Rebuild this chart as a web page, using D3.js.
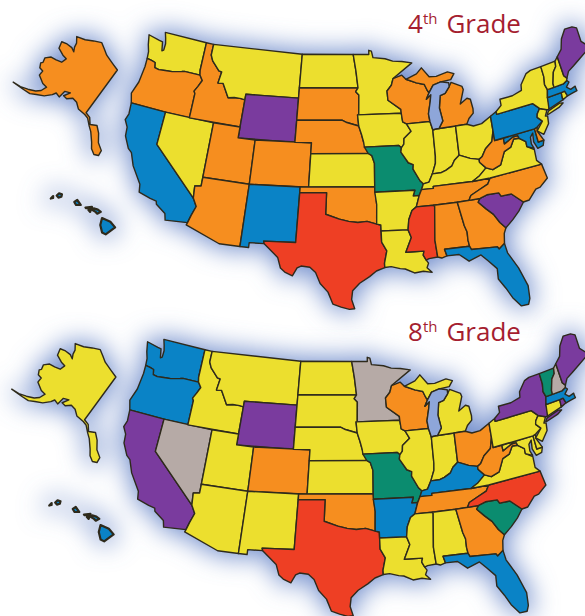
<!DOCTYPE html>
<html lang="en">
<head>
<meta charset="UTF-8">
<title>4th and 8th Grade</title>
<script src="https://d3js.org/d3.v7.min.js"></script>
<style>
  html, body { margin: 0; padding: 0; background: #fff; }
  svg { display: block; }
  .state { stroke: #2e2a1c; stroke-width: 1.4; stroke-linejoin: round; }
  .title { font-family: "Open Sans", sans-serif; font-size: 26px; fill: #a51e30; }
</style>
</head>
<body>
<svg id="chart" width="585" height="616"></svg>
<script>
// Colour bands, and the band of each state in the two grades
const bands = ["yellow", "orange", "blue", "purple", "red", "green", "gray"];
const bandColors = ["#ecdf2e", "#f68e1f", "#0a83c6", "#7a3b9e", "#ee3f24", "#0b8c6f", "#b6aaa6"];

const grades = ["4", "8"];

const stateNames = ["AK","HI","WA","OR","CA","NV","ID","MT","WY","UT","AZ","CO","NM","ND","SD","NE","KS","OK","TX",
  "MN","IA","MO","AR","LA","WI","IL","IN","MI","MIU","OH","KY","TN","MS","AL","GA","FL","SC","NC","VA","WV","MD","DE",
  "PA","NJ","NY","LI","CT","RI","MA","VT","NH","ME"];

const grade4 = ["orange","blue","yellow","orange","blue","yellow","orange","yellow","purple","orange","orange","orange","blue","yellow","orange","orange","yellow","orange","red",
  "yellow","yellow","green","yellow","yellow","orange","yellow","yellow","orange","orange","yellow","yellow","orange","red","orange","orange","blue","purple","orange","yellow","orange","blue","orange",
  "blue","yellow","yellow","yellow","blue","yellow","blue","yellow","yellow","purple"];

const grade8 = ["yellow","blue","blue","blue","purple","gray","yellow","yellow","purple","yellow","yellow","orange","yellow","yellow","yellow","yellow","yellow","orange","red",
  "gray","yellow","green","blue","yellow","orange","yellow","yellow","yellow","yellow","orange","blue","orange","yellow","yellow","orange","blue","green","red","yellow","orange","yellow","yellow",
  "yellow","yellow","purple","purple","yellow","purple","blue","green","gray","purple"];

// State outlines, lon/lat
const AK = [[-141,69.65],[-145,70.05],[-150,70.45],[-153,70.9],[-156.6,71.35],[-160,70.4],[-163,69.3],[-166.5,68.35],[-164,67.7],[-163,67],[-161.5,66.4],[-163.5,66.55],[-166,66.2],[-168,65.6],[-166.3,64.6],[-163,64.5],[-161,64.6],[-161,63.6],[-163,63.05],[-165,62.6],[-166,61.6],[-165,60.9],[-165.3,60.5],[-164,59.9],[-162.5,60],[-162,59.1],[-159,58.7],[-157.2,58.8],[-157.5,57.7],[-158.5,56.9],[-160.5,56],[-162.5,55.2],[-164.9,54.6],[-161.5,55.3],[-159,55.8],[-157.5,56.6],[-155.5,57.5],[-154,58.7],[-153.5,59.4],[-151.8,59.3],[-151.8,60.7],[-150,61.2],[-151,60],[-149.5,60],[-148,60.8],[-146,60.7],[-144,60],[-141,59.9],[-139.5,59.7],[-137.5,58.7],[-136,58],[-134,56.5],[-133,55.5],[-131.5,54.8],[-130.1,55],[-130,56],[-132,57],[-133.5,58.5],[-135.3,59.5],[-137.5,59],[-139,60],[-141,60.3]];
const HI = [
  [[-155.9,20.25],[-155.2,19.95],[-154.8,19.5],[-155.6,18.95],[-155.9,19.1],[-156.05,19.7]],
  [[-156.7,20.9],[-156.6,21.03],[-156.25,20.93],[-156,20.75],[-156.3,20.6],[-156.45,20.75]],
  [[-157.3,21.1],[-156.75,21.15],[-156.75,21.05],[-157.25,21.05]],
  [[-157.05,20.9],[-156.85,20.9],[-156.9,20.75]],
  [[-158.25,21.55],[-158,21.7],[-157.7,21.3],[-158.1,21.3]],
  [[-159.75,22.05],[-159.55,22.22],[-159.3,22.15],[-159.35,21.95],[-159.6,21.88]],
  [[-160.25,21.8],[-160.05,22],[-160.05,21.85]]
];
const WA = [[-124.7,48.38],[-123.2,48.15],[-122.75,48.1],[-122.5,47.3],[-122.3,47.4],[-122.3,48],[-122.5,48.5],[-122.75,49],[-117.03,49],[-117.04,46.42],[-116.92,45.99],[-118.98,46],[-119.3,45.93],[-120.5,45.7],[-121.2,45.65],[-122.2,45.57],[-122.75,45.65],[-122.9,46.1],[-123.4,46.2],[-124,46.27],[-124.1,46.9],[-124.4,47.5]];
const OR = [[-124,46.27],[-123.4,46.2],[-122.9,46.1],[-122.75,45.65],[-122.2,45.57],[-121.2,45.65],[-120.5,45.7],[-119.3,45.93],[-118.98,46],[-116.92,45.99],[-116.48,45.55],[-116.85,44.95],[-117.2,44.45],[-117.03,44.25],[-117.03,42],[-120,42],[-124.2,42],[-124.55,42.84],[-124.1,44],[-123.95,45.5]];
const CA = [[-124.2,42],[-120,42],[-120,39],[-114.63,35],[-114.14,34.3],[-114.5,33.4],[-114.72,32.72],[-117.12,32.53],[-117.3,33.1],[-118.4,33.75],[-118.5,34.03],[-119.2,34.15],[-120.5,34.45],[-120.65,35.15],[-121.9,36.6],[-122.5,37.7],[-123,38],[-123.75,39],[-123.85,39.8],[-124.35,40.4],[-124.1,41]];
const NV = [[-120,42],[-114.04,42],[-114.04,36.2],[-114.74,36.1],[-114.63,35],[-120,39]];
const ID = [[-117.04,49],[-116.05,49],[-116.05,48],[-115.7,47.5],[-114.7,46.7],[-114.35,46.65],[-114.5,45.6],[-113.9,45.65],[-113.45,45.05],[-113,44.45],[-112.3,44.55],[-111.5,44.55],[-111.05,44.48],[-111.05,42],[-117.03,42],[-117.03,44.25],[-117.2,44.45],[-116.85,44.95],[-116.48,45.55],[-116.92,45.99],[-117.04,46.42]];
const MT = [[-116.05,49],[-104.05,49],[-104.05,45],[-111.05,45],[-111.05,44.48],[-111.5,44.55],[-112.3,44.55],[-113,44.45],[-113.45,45.05],[-113.9,45.65],[-114.5,45.6],[-114.35,46.65],[-114.7,46.7],[-115.7,47.5],[-116.05,48]];
const WY = [[-111.05,45],[-104.05,45],[-104.05,41],[-111.05,41]];
const UT = [[-114.04,42],[-111.05,42],[-111.05,41],[-109.05,41],[-109.05,37],[-114.04,37]];
const AZ = [[-114.04,37],[-109.05,37],[-109.05,31.33],[-111.07,31.33],[-114.81,32.5],[-114.72,32.72],[-114.5,33.4],[-114.14,34.3],[-114.63,35],[-114.74,36.1],[-114.04,36.2]];
const CO = [[-109.05,41],[-102.05,41],[-102.05,37],[-109.05,37]];
const NM = [[-109.05,37],[-103,37],[-103.05,32],[-106.62,32],[-106.53,31.78],[-108.2,31.78],[-108.2,31.33],[-109.05,31.33]];
const ND = [[-104.05,49],[-97.23,49],[-96.85,47.5],[-96.56,45.94],[-104.05,45.94]];
const SD = [[-104.05,45.94],[-96.56,45.94],[-96.85,45.6],[-96.45,45.3],[-96.45,43.5],[-96.6,43.5],[-96.45,42.49],[-97.9,42.8],[-98.5,43],[-104.05,43]];
const NE = [[-104.05,43],[-98.5,43],[-97.9,42.8],[-96.45,42.49],[-96.1,41.7],[-95.85,41],[-95.31,40],[-102.05,40],[-102.05,41],[-104.05,41]];
const KS = [[-102.05,40],[-95.31,40],[-94.9,39.8],[-94.61,39.1],[-94.62,37],[-102.05,37]];
const OK = [[-103,37],[-94.62,37],[-94.43,35.4],[-94.48,33.64],[-95.5,33.9],[-96.5,33.8],[-97.5,33.9],[-98.5,34.1],[-100,34.56],[-100,36.5],[-103,36.5]];
const TX = [[-106.62,32],[-103.05,32],[-103,36.5],[-100,36.5],[-100,34.56],[-98.5,34.1],[-97.5,33.9],[-96.5,33.8],[-95.5,33.9],[-94.48,33.64],[-94.04,33.55],[-94.04,33],[-94.04,32],[-93.55,31.2],[-93.85,30.1],[-93.85,29.7],[-94.7,29.4],[-95.4,28.9],[-96.4,28.3],[-97.1,27.6],[-97.2,26.8],[-96.9,25.96],[-97.4,25.9],[-98.2,26.1],[-99,26.4],[-99.5,27.5],[-100.3,28.3],[-100.8,29.3],[-101.4,29.77],[-102.3,29.88],[-102.7,29.7],[-103.15,28.98],[-104,29.3],[-104.5,29.65],[-104.9,30.6],[-106.53,31.78]];
const MN = [[-97.23,49],[-95.15,49],[-95.15,49.38],[-94.8,49.3],[-94.6,48.7],[-93,48.55],[-92,48.3],[-90.8,48.2],[-89.5,48],[-92.05,46.7],[-92.3,46.1],[-92.88,45.6],[-92.8,44.75],[-91.25,43.85],[-91.22,43.5],[-96.45,43.5],[-96.45,45.3],[-96.85,45.6],[-96.56,45.94],[-96.85,47.5]];
const IA = [[-96.6,43.5],[-91.22,43.5],[-91.1,42.7],[-90.65,42.5],[-90.15,41.8],[-91.05,41.2],[-91.1,40.7],[-91.42,40.38],[-91.7,40.6],[-95.77,40.58],[-95.85,41],[-96.1,41.7],[-96.45,42.49]];
const MO = [[-95.77,40.58],[-91.7,40.6],[-91.42,40.38],[-91.5,40],[-90.7,39],[-90.15,38.8],[-90.2,38.4],[-89.5,37.3],[-89.15,37],[-89.4,36.5],[-89.7,36],[-90.37,36],[-90.15,36.5],[-94.62,36.5],[-94.62,37],[-94.61,39.1],[-94.9,39.8],[-95.31,40]];
const AR = [[-94.62,36.5],[-90.15,36.5],[-90.37,36],[-89.7,36],[-90.1,35],[-90.6,34.7],[-91,33.9],[-91.17,33],[-94.04,33],[-94.04,33.55],[-94.48,33.64],[-94.43,35.4]];
const LA = [[-94.04,33],[-91.17,33],[-90.9,32.3],[-91.6,31],[-89.73,31],[-89.85,30.65],[-89.6,30.18],[-89.4,29.9],[-89.6,29.5],[-89.15,29.05],[-90,29.2],[-90.9,29.1],[-91.8,29.5],[-92.3,29.55],[-93.2,29.77],[-93.85,29.7],[-93.85,30.1],[-93.55,31.2],[-94.04,32]];
const MS = [[-90.1,35],[-88.2,35],[-88.1,34.9],[-88.47,31.9],[-88.4,30.37],[-89.3,30.3],[-89.6,30.18],[-89.85,30.65],[-89.73,31],[-91.6,31],[-90.9,32.3],[-91.17,33],[-91,33.9],[-90.6,34.7]];
const AL = [[-88.2,35],[-85.6,35],[-85.18,32.85],[-85,32.3],[-85.05,31.55],[-85,31],[-87.6,31],[-87.45,30.4],[-88,30.25],[-88.4,30.37],[-88.47,31.9],[-88.1,34.9]];
const GA = [[-85.6,35],[-83.1,35],[-83.35,34.7],[-82.6,34],[-81.9,33.4],[-81.4,32.6],[-80.9,32.05],[-81.2,31.6],[-81.4,30.75],[-82.05,30.36],[-82.2,30.57],[-84.87,30.7],[-85,31],[-85.05,31.55],[-85,32.3],[-85.18,32.85]];
const FL = [[-87.6,31],[-85,31],[-84.87,30.7],[-82.2,30.57],[-82.05,30.36],[-81.4,30.75],[-81.3,29.9],[-80.55,28.45],[-80.03,26.8],[-80.15,25.7],[-80.4,25.2],[-81.1,25.15],[-81.75,26],[-82.2,26.9],[-82.75,27.8],[-82.65,28.7],[-83.4,29.5],[-84,30.1],[-85.3,29.7],[-86.2,30.4],[-87.45,30.4]];
const SC = [[-83.1,35],[-82.3,35.2],[-81,35.15],[-80.8,34.82],[-79.67,34.8],[-78.55,33.86],[-79.2,33.2],[-80,32.6],[-80.9,32.05],[-81.4,32.6],[-81.9,33.4],[-82.6,34],[-83.35,34.7]];
const NC = [[-84.32,35],[-83.1,35],[-82.3,35.2],[-81,35.15],[-80.8,34.82],[-79.67,34.8],[-78.55,33.86],[-77.9,33.9],[-77,34.65],[-76.5,34.7],[-75.55,35.25],[-75.85,36.55],[-81.68,36.59],[-82.05,36.1],[-83.1,35.75],[-84.05,35.4]];
const TN = [[-90.1,35],[-88.2,35],[-85.6,35],[-84.32,35],[-84.05,35.4],[-83.1,35.75],[-82.05,36.1],[-81.68,36.59],[-83.68,36.6],[-88.07,36.68],[-88.07,36.5],[-89.4,36.5],[-89.7,36]];
const KY = [[-89.4,36.5],[-88.07,36.5],[-88.07,36.68],[-83.68,36.6],[-82.8,36.98],[-81.97,37.54],[-82.6,38.15],[-82.6,38.4],[-83.6,38.65],[-84.8,39.1],[-85.4,38.73],[-85.75,38.27],[-86.5,37.95],[-87.1,37.8],[-88.05,37.8],[-88.5,37.1],[-89.15,37]];
const IL = [[-91.42,40.38],[-91.1,40.7],[-91.05,41.2],[-90.15,41.8],[-90.65,42.5],[-87.8,42.5],[-87.55,41.7],[-87.53,39.35],[-87.6,38.7],[-88.05,37.8],[-88.5,37.1],[-89.15,37],[-89.5,37.3],[-90.2,38.4],[-90.15,38.8],[-90.7,39],[-91.5,40]];
const IN = [[-87.55,41.7],[-87.2,41.76],[-84.8,41.76],[-84.8,39.1],[-85.4,38.73],[-85.75,38.27],[-86.5,37.95],[-87.1,37.8],[-88.05,37.8],[-87.6,38.7],[-87.53,39.35]];
const OH = [[-84.8,41.76],[-83.45,41.73],[-82.7,41.45],[-81.7,41.5],[-80.52,41.98],[-80.52,40.64],[-80.85,39.7],[-81.7,39.2],[-82.2,38.6],[-82.6,38.4],[-83.6,38.65],[-84.8,39.1]];
const WV = [[-82.6,38.15],[-82.6,38.4],[-82.2,38.6],[-81.7,39.2],[-80.85,39.7],[-80.52,40.64],[-80.52,39.72],[-79.48,39.72],[-79.48,39.2],[-78.4,39.6],[-77.83,39.6],[-77.72,39.32],[-78.35,39.4],[-78.85,38.77],[-79.65,38.55],[-80.3,37.5],[-81.25,37.25],[-81.97,37.54]];
const VA = [[-83.68,36.6],[-81.68,36.59],[-75.85,36.55],[-76.3,37],[-76.3,37.95],[-77.05,38.4],[-77.05,38.85],[-77.72,39.32],[-78.35,39.4],[-78.85,38.77],[-79.65,38.55],[-80.3,37.5],[-81.25,37.25],[-81.97,37.54],[-82.8,36.98]];
const MD = [[-79.48,39.72],[-75.79,39.72],[-75.7,38.46],[-75.05,38.45],[-75.25,38.03],[-75.9,37.95],[-76.2,38.6],[-76.1,39.4],[-76.45,39.1],[-76.5,38.5],[-76.3,38.05],[-77.05,38.4],[-77.05,38.85],[-77.72,39.32],[-77.83,39.6],[-78.4,39.6],[-79.48,39.2]];
const DE = [[-75.79,39.72],[-75.45,39.8],[-75.55,39.45],[-75.05,38.45],[-75.7,38.46]];
const PA = [[-80.52,41.98],[-79.76,42.27],[-79.76,42],[-75.35,42],[-74.7,41.36],[-75.1,40.95],[-75.2,40.65],[-74.72,40.15],[-75.45,39.8],[-75.79,39.72],[-80.52,39.72]];
const NJ = [[-74.7,41.36],[-73.9,41],[-74.25,40.5],[-74,40.45],[-74.1,39.75],[-74.9,38.95],[-75.55,39.45],[-74.72,40.15],[-75.2,40.65],[-75.1,40.95]];
const NY = [[-79.76,42.27],[-79.05,42.7],[-79.05,43.27],[-77.5,43.27],[-76.3,43.5],[-76.2,44],[-75.3,44.85],[-74.7,45],[-73.35,45],[-73.3,44],[-73.45,43.3],[-73.27,42.75],[-73.5,42.05],[-73.5,41.3],[-73.65,41],[-73.9,41],[-74.7,41.36],[-75.35,42],[-79.76,42]];
const LI = [[-74,40.6],[-73.75,40.85],[-72.3,41.15],[-71.9,41.05],[-72.5,40.8],[-73.9,40.55]];
const CT = [[-73.5,42.05],[-71.8,42.02],[-71.85,41.32],[-73.65,41]];
const RI = [[-71.8,42.02],[-71.38,42.02],[-71.2,41.5],[-71.85,41.32]];
const MA = [[-73.5,42.05],[-73.27,42.75],[-71.3,42.7],[-70.8,42.87],[-70.6,42.65],[-71.05,42.3],[-70.65,41.95],[-70.05,42.05],[-70.05,41.8],[-70,41.6],[-70.65,41.55],[-71.2,41.5],[-71.38,42.02],[-71.8,42.02]];
const VT = [[-73.35,45],[-71.5,45],[-71.6,44.5],[-72.05,44.1],[-72.45,43.1],[-72.46,42.73],[-73.27,42.75],[-73.45,43.3],[-73.3,44]];
const NH = [[-71.5,45],[-71.1,45.3],[-70.98,43.4],[-70.7,43.07],[-70.8,42.87],[-71.3,42.7],[-72.46,42.73],[-72.45,43.1],[-72.05,44.1],[-71.6,44.5]];
const ME = [[-71.1,45.3],[-70.4,45.8],[-70,46.7],[-69.25,47.45],[-68.3,47.35],[-67.8,47.07],[-67.8,45.7],[-67,44.85],[-68.5,44.3],[-69.5,43.9],[-70.3,43.6],[-70.7,43.07],[-70.98,43.4]];
const WI = [[-92.05,46.7],[-90.9,46.95],[-90.4,46.55],[-89.1,46.13],[-88.1,45.9],[-87.8,45.35],[-87.6,45.1],[-88,44.55],[-87.4,44.9],[-87.55,44.3],[-87.9,43.2],[-87.8,42.5],[-90.65,42.5],[-91.1,42.7],[-91.22,43.5],[-91.25,43.85],[-92.8,44.75],[-92.88,45.6],[-92.3,46.1]];
const MI = [[-86.8,41.76],[-84.8,41.76],[-83.45,41.73],[-83.1,42.2],[-82.5,42.6],[-82.45,43],[-82.6,43.9],[-83,44.05],[-83.9,43.65],[-83.3,44.9],[-83.4,45.2],[-84.7,45.75],[-85,45.4],[-85.6,44.85],[-86.25,44.7],[-86.5,43.6],[-86.25,42.4]];
const MIU = [[-90.4,46.55],[-89.1,46.13],[-88.1,45.9],[-87.8,45.35],[-87.6,45.1],[-87,45.75],[-86,45.95],[-84.7,46],[-84.2,46.5],[-85,46.75],[-86.5,46.5],[-87.4,46.55],[-88.3,47.45],[-89,46.95]];
const lakeMichigan = [[-87.6,45.1],[-87,45.75],[-86,45.95],[-85,45.75],[-85,45.4],[-85.6,44.85],[-86.25,44.7],[-86.5,43.6],[-86.25,42.4],[-86.8,41.76],[-87.2,41.76],[-87.55,41.7],[-87.8,42.5],[-87.9,43.2],[-87.55,44.3],[-87.4,44.9],[-88,44.55]];

const stateShapes = {WA,OR,CA,NV,ID,MT,WY,UT,AZ,CO,NM,ND,SD,NE,KS,OK,TX,MN,IA,MO,AR,LA,MS,AL,GA,FL,SC,NC,TN,KY,IL,IN,OH,WV,VA,MD,DE,PA,NJ,NY,LI,CT,RI,MA,VT,NH,ME,WI,MI,MIU};

// one projection per block of the map, unit scale, the linear scales place them
const lower48 = d3.geoConicEqualArea().parallels([29.5, 45.5]).rotate([96, 0]).center([0, 38]).scale(1).translate([0, 0]).precision(0);
const alaska = d3.geoConicEqualArea().parallels([55, 65]).rotate([99, 0]).center([0, 62]).scale(1).translate([0, 0]).precision(0);
const hawaii = d3.geoConicEqualArea().parallels([8, 18]).rotate([157, 0]).center([0, 20.5]).scale(1).translate([0, 0]).precision(0);

const baseX = d3.scaleLinear().domain([0, 1]).range([359, 959]);
const baseY = d3.scaleLinear().domain([0, 1]).range([176, 806]);
// the printed map is wider along the west coast than a true projection
const westX = d3.scaleLinear().domain([44, 144, 175, 220, 250, 300, 700]).range([31, 131, 165, 213, 248, 299, 699]);
const clamp01 = d3.scaleLinear().domain([0, 1]).range([0, 1]).clamp(true);

// the east coast is also stretched and tilted upward in the print
function fit48(d) {
  const p = lower48(d);
  const x0 = baseX(p[0]), y0 = baseY(p[1]);
  const east = Math.max(0, x0 - 300);
  const x = westX(x0) + east * (0.075 + 0.03 * clamp01((y0 - 220) / 85));
  const y = y0
    - 19 * Math.pow(east / 270, 3) * clamp01((300 - y0) / 150)
    + 5 * clamp01((340 - x0) / 90);
  return [x, y];
}

const akX = d3.scaleLinear().domain([0, 1]).range([196, 521]);
const akY = d3.scaleLinear().domain([0, 1]).range([139, 464]);
const hiX = d3.scaleLinear().domain([0, 1]).range([89, 809]);
const hiY = d3.scaleLinear().domain([0, 1]).range([215, 935]);

const line48 = d3.line().x(d => fit48(d)[0]).y(d => fit48(d)[1]);
const lineAK = d3.line().x(d => akX(alaska(d)[0])).y(d => akY(alaska(d)[1]));
const lineHI = d3.line().x(d => hiX(hawaii(d)[0])).y(d => hiY(hawaii(d)[1]));

function shapePath(name) {
  if (name === "HI") return HI.map(p => lineHI(p) + "Z").join("");
  if (name === "AK") return lineAK(AK) + "Z";
  return line48(stateShapes[name]) + "Z";
}

const svg = d3.select("#chart");
const defs = svg.append("defs");
defs.append("filter").attr("id", "glow")
  .attr("x", -60).attr("y", -60).attr("width", 720).attr("height", 440)
  .attr("filterUnits", "userSpaceOnUse")
  .append("feGaussianBlur").attr("stdDeviation", 13);

const offsets = [[0, 0], [-1.5, 307]];
const titleBase = [33, 341];

function renderMap(index, colors) {
  const g = svg.append("g").attr("transform", "translate(" + offsets[index] + ")");

  // soft blue halo behind the country
  g.append("g").attr("filter", "url(#glow)")
    .selectAll("path").data(stateNames).enter().append("path")
    .attr("d", shapePath)
    .attr("fill", "#6f8ccb")
    .attr("stroke", "#6f8ccb")
    .attr("stroke-width", 7);

  g.selectAll("path.state")
    .data(stateNames).enter().append("path")
    .attr("class", "state")
    .attr("d", shapePath)
    .style("stroke-width", d => d === "HI" ? "2.2px" : null)
    .attr("fill", (d, i) => bandColors[bands.indexOf(colors[i])]);

  g.append("path")
    .attr("class", "state")
    .attr("d", line48(lakeMichigan) + "Z")
    .attr("fill", "#8ea6d9");
}

renderMap(0, grade4);
renderMap(1, grade8);

grades.forEach(function(gr, i) {
  const t = svg.append("text").attr("class", "title")
    .attr("x", 408).attr("y", titleBase[i]);
  t.append("tspan").text(gr);
  t.append("tspan").attr("dy", -9).attr("font-size", 15).text("th");
  t.append("tspan").attr("dy", 9).attr("dx", 9).text("Grade");
});
</script>
</body>
</html>
